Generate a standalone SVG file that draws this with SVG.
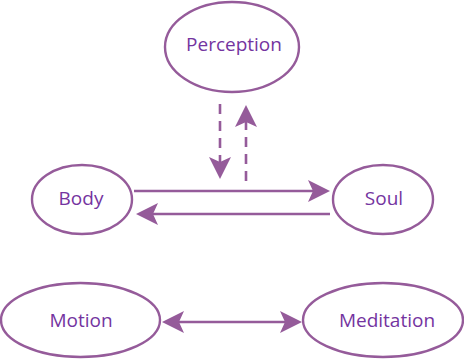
<svg xmlns="http://www.w3.org/2000/svg" width="464" height="359" viewBox="0 0 464 359">
<style>
.node ellipse{fill:#fff;stroke:#955B9A;stroke-width:2.4}
.node text{font-family:"Open Sans","Liberation Sans",sans-serif;font-size:19px;fill:#7434A0;text-anchor:middle}
.conn line{stroke:#955B9A;stroke-width:2.6;fill:none}
.dash{stroke-dasharray:10 7}
</style>
<defs>
<marker id="ah" viewBox="0 0 22 22" refX="5" refY="11" markerWidth="22" markerHeight="22" markerUnits="userSpaceOnUse" orient="auto-start-reverse">
<path d="M0,0 L22,11 L0,22 L5,11 z" fill="#955B9A"/>
</marker>
</defs>
<rect width="464" height="359" fill="#fff"/>
<g id="connectors" class="conn">
<line class="dash" x1="220" y1="104" x2="220" y2="162" marker-end="url(#ah)"/>
<line class="dash" x1="246" y1="181" x2="246" y2="122" marker-end="url(#ah)"/>
<line x1="134" y1="191" x2="313" y2="191" marker-end="url(#ah)"/>
<line x1="330" y1="214" x2="153" y2="214" marker-end="url(#ah)"/>
<line x1="179" y1="322" x2="285" y2="322" marker-start="url(#ah)" marker-end="url(#ah)"/>
</g>
<g id="perception" class="node"><ellipse cx="232" cy="47" rx="67" ry="45"/><text x="234" y="51">Perception</text></g>
<g id="body" class="node"><ellipse cx="82" cy="199.5" rx="50" ry="34.5"/><text x="81" y="205">Body</text></g>
<g id="soul" class="node"><ellipse cx="383" cy="199.5" rx="50" ry="34.5"/><text x="384" y="205">Soul</text></g>
<g id="motion" class="node"><ellipse cx="80.5" cy="320" rx="79.5" ry="37"/><text x="81" y="327">Motion</text></g>
<g id="meditation" class="node"><ellipse cx="383" cy="320" rx="80" ry="37"/><text x="387" y="327">Meditation</text></g>
</svg>
